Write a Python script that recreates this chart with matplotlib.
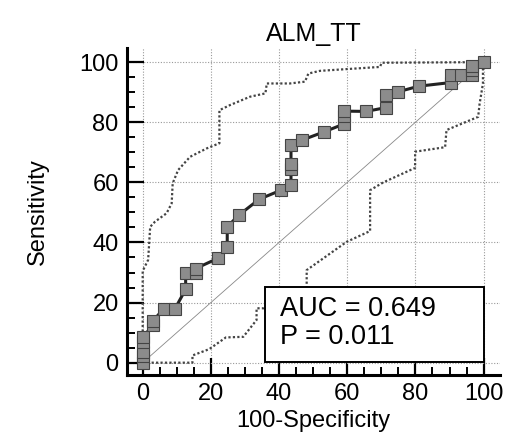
import matplotlib
matplotlib.use("Agg")
import matplotlib.pyplot as plt
from matplotlib.patches import Rectangle

plt.rcParams['font.family'] = ['Liberation Sans', 'DejaVu Sans']

# ROC curve points (100-Specificity, Sensitivity)
roc_x = [0, 0, 0, 0, 0, 3.1, 3.1, 6.2, 9.5, 12.6, 12.6, 15.5, 15.5, 22.2,
         24.8, 24.8, 28.2, 34.2, 40.6, 43.5, 43.5, 43.5, 43.5, 46.6, 53.2,
         59.0, 59.0, 59.0, 65.5, 71.5, 71.5, 74.8, 81.0, 90.3, 90.3, 93.5,
         96.7, 96.7, 96.7, 100]
roc_y = [0, 2.2, 3.7, 7.0, 8.5, 12.5, 14.0, 18.0, 18.0, 24.4, 30.0, 30.0,
         31.3, 34.8, 38.4, 45.2, 49.1, 54.4, 57.4, 59.1, 64.6, 66.1, 72.4,
         74.0, 76.8, 79.4, 82.2, 83.7, 83.6, 84.9, 89.0, 90.1, 92.0, 93.2,
         95.7, 95.7, 95.7, 97.3, 98.8, 100]

# 95% confidence bounds
upper_x = [0, 0, 1.6, 2.2, 3.6, 7.0, 8.5, 8.8, 10.4, 13.9, 18.8, 22.5, 22.5,
           25.6, 31.5, 36.0, 36.4, 43.2, 47.6, 48.6, 52.0, 69.6, 70.1, 100]
upper_y = [0, 30.5, 34.2, 45.2, 46.9, 49.7, 53.0, 59.7, 64.1, 68.5, 71.3,
           73.0, 84.0, 85.7, 88.5, 89.6, 92.9, 92.9, 93.5, 96.2, 97.1, 98.4,
           99.8, 100]
lower_x = [0, 14.6, 14.6, 19.5, 24.4, 29.5, 33.4, 33.4, 35.5, 46.0, 48.1,
           48.1, 59.8, 66.7, 66.7, 70.6, 79.9, 79.9, 88.7, 89.1, 98.4, 98.8,
           99.8, 99.8, 100]
lower_y = [0, 0, 2.4, 4.5, 8.4, 8.6, 14.2, 18.1, 18.1, 24.0, 25.0, 30.8,
           40.2, 43.8, 57.4, 60.0, 64.8, 70.2, 71.7, 77.4, 81.8, 86.0, 92.9,
           100, 100]

auc_text = 'AUC = 0.649\nP = 0.011'

fig = plt.figure(figsize=(5.06, 4.47), dpi=100)
ax = fig.add_axes([127/506, 1 - 375/447, 373/506, 327/447])

ax.set_xlim(-4.6, 104.8)
ax.set_ylim(-4.1, 104.7)

ax.spines['top'].set_visible(False)
ax.spines['right'].set_visible(False)
for s in ['left', 'bottom']:
    ax.spines[s].set_linewidth(2.2)

ticks = [0, 20, 40, 60, 80, 100]
ax.set_xticks(ticks)
ax.set_yticks(ticks)
ax.set_xticks(range(0, 101, 5), minor=True)
ax.set_yticks(range(0, 101, 5), minor=True)
ax.tick_params(which='major', direction='in', length=12, width=1.6, labelsize=17, pad=6)
ax.tick_params(which='minor', direction='in', length=6, width=1.4)

ax.grid(True, which='major', color='#999999', linestyle=(0, (1, 1.5)), linewidth=0.8)

ax.plot([0, 100], [0, 100], color='#888888', linewidth=0.6, zorder=2)
ax.plot(upper_x, upper_y, color='#444444', linestyle=(0, (1, 1)), linewidth=1.6, zorder=2)
ax.plot(lower_x, lower_y, color='#444444', linestyle=(0, (1, 1)), linewidth=1.6, zorder=2)

ax.plot(roc_x, roc_y, color='#222222', linewidth=2.2, marker='s', markersize=8,
        markerfacecolor='#8c8c8c', markeredgecolor='#444444', markeredgewidth=0.8,
        zorder=4, clip_on=False)

box = Rectangle((35.9, 0.2), 64.1, 25.0, facecolor='white', edgecolor='black',
                linewidth=1.4, zorder=5)
ax.add_patch(box)
ax.text(40.3, 13.2, auc_text, fontsize=19.5, va='center', ha='left',
        linespacing=1.12, zorder=6)

ax.set_title('ALM_TT', fontsize=18, pad=5)
ax.set_xlabel('100-Specificity', fontsize=17, labelpad=3)
ax.set_ylabel('Sensitivity', fontsize=17, labelpad=22)

fig.savefig('out.png', dpi=100)
